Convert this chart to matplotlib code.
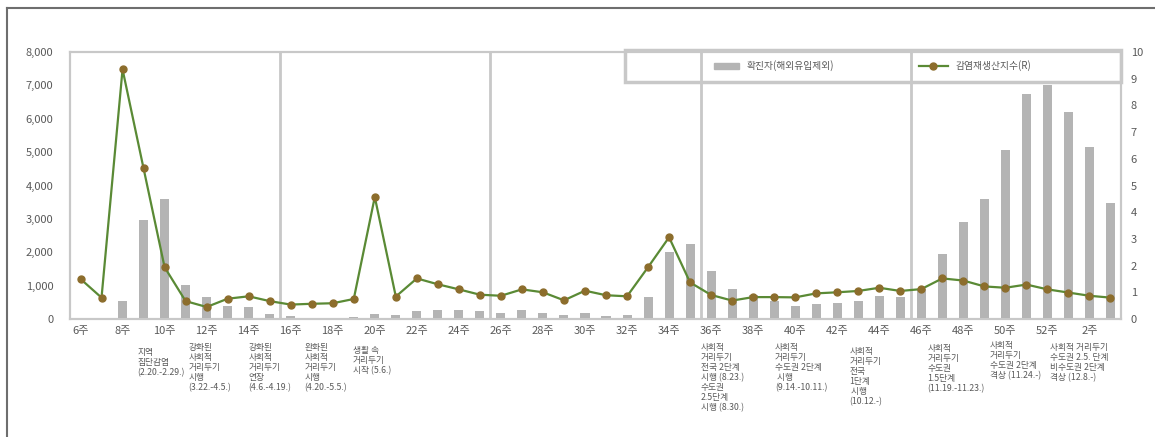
import matplotlib
matplotlib.use("Agg")
import matplotlib.pyplot as plt
from matplotlib.lines import Line2D
from matplotlib.patches import Rectangle, Patch
import matplotlib.transforms as mtransforms

plt.rcParams['font.family'] = ['Noto Sans CJK KR', 'DejaVu Sans']

# weekly data (2020 week 6 ~ 2021 week 3)
weeks = list(range(6, 53)) + [1, 2, 3]
cases = [20, 15, 540, 2960, 3600, 1030, 660, 380, 360, 140,
         80, 40, 20, 50, 140, 110, 250, 280, 280, 240,
         190, 280, 170, 130, 170, 80, 130, 650, 2020, 2250,
         1430, 910, 730, 540, 380, 450, 480, 530, 680, 650,
         910, 1940, 2920, 3600, 5050, 6730, 7000, 6210, 5150, 3490]
r_values = [1.50, 0.80, 9.35, 5.64, 1.94, 0.67, 0.45, 0.76, 0.85, 0.67,
            0.54, 0.57, 0.59, 0.75, 4.57, 0.84, 1.52, 1.30, 1.11, 0.91,
            0.87, 1.11, 1.00, 0.70, 1.06, 0.89, 0.85, 1.94, 3.06, 1.37,
            0.90, 0.69, 0.82, 0.82, 0.81, 0.96, 1.00, 1.05, 1.17, 1.05,
            1.12, 1.52, 1.44, 1.22, 1.17, 1.29, 1.11, 0.99, 0.87, 0.80]
period_breaks = [9.5, 19.5, 29.5, 39.5]

# policy notes under the axis: (x position in week index, top in axes fraction, text)
notes = [
    (2.70, -0.109, "지역\n집단감염\n(2.20.-2.29.)"),
    (5.13, -0.090, "강화된\n사회적\n거리두기\n시행\n(3.22.-4.5.)"),
    (7.99, -0.090, "강화된\n사회적\n거리두기\n연장\n(4.6.-4.19.)"),
    (10.66, -0.090, "완화된\n사회적\n거리두기\n시행\n(4.20.-5.5.)"),
    (12.95, -0.101, "생활 속\n거리두기\n시작 (5.6.)"),
    (29.51, -0.090, "사회적\n거리두기\n전국 2단계\n시행 (8.23.)\n수도권\n2.5단계\n시행 (8.30.)"),
    (33.04, -0.090, "사회적\n거리두기\n수도권 2단계\n 시행\n(9.14.-10.11.)"),
    (36.57, -0.105, "사회적\n거리두기\n전국\n1단계\n 시행\n(10.12.-)"),
    (40.29, -0.094, "사회적\n거리두기\n수도권\n1.5단계\n(11.19.-11.23.)"),
    (43.25, -0.082, "사회적\n거리두기\n수도권 2단계\n격상 (11.24.-)"),
    (46.11, -0.090, "사회적 거리두기\n수도권 2.5. 단계\n비수도권 2단계\n격상 (12.8.-)"),
]

grid_col = "#c8c8c8"
text_col = "#595959"
bar_col = "#b4b4b4"
line_col = "#5a8a35"
mark_col = "#8c6d2c"

fig = plt.figure(figsize=(11.55, 4.37), dpi=100)
W, H = 1155, 437
ax = fig.add_axes([70 / W, 1 - 319 / H, (1121 - 70) / W, (319 - 52) / H])
ax2 = ax.twinx()

x = list(range(len(weeks)))
bars = ax.bar(x, cases, width=0.43, color=bar_col, zorder=2)
ax2.plot(x, r_values, color=line_col, lw=1.6, marker="o", ms=5,
         mfc=mark_col, mec=mark_col, zorder=3)

ax.set_xlim(-0.5, len(weeks) - 0.5)
ax.set_ylim(0, 8000)
ax2.set_ylim(0, 10)
ax.set_yticks(range(0, 8001, 1000))
ax.set_yticklabels([f"{v:,}" for v in range(0, 8001, 1000)])
ax2.set_yticks(range(0, 11))

ax.set_xticks(x[::2])
ax.set_xticklabels([f"{w}주" for w in weeks[::2]])

for a in (ax, ax2):
    a.tick_params(length=0, labelsize=8, colors=text_col)
    for s in a.spines.values():
        s.set_color(grid_col)
        s.set_linewidth(1.5)
ax.tick_params(axis="y", pad=12)
ax2.tick_params(axis="y", pad=7)
ax.tick_params(axis="x", pad=5)

for b in period_breaks:
    ax.axvline(b, color=grid_col, lw=2, zorder=1)

trans = mtransforms.blended_transform_factory(ax.transData, ax.transAxes)
for xn, yn, txt in notes:
    ax.text(xn, yn, txt, transform=trans, ha="left", va="top",
            fontsize=6.3, color=text_col, linespacing=1.15, clip_on=False)

# legend box across the top right
box = Rectangle((625 / W, 1 - 82 / H), (1121 - 625) / W, 32 / H,
                transform=fig.transFigure, fill=False, ec=grid_col, lw=2.5, zorder=5)
fig.patches.append(box)

leg1 = ax2.legend(handles=[Patch(color=bar_col, label="확진자(해외유입제외)")],
                  loc="center left", bbox_to_anchor=(705 / W, 1 - 66 / H),
                  bbox_transform=fig.transFigure, frameon=False, fontsize=7,
                  handlelength=2.6, handleheight=0.6, labelcolor=text_col)
ax2.add_artist(leg1)
ax2.legend(handles=[Line2D([], [], color=line_col, lw=1.6, marker="o", ms=5,
                           mfc=mark_col, mec=mark_col, label="감염재생산지수(R)")],
           loc="center left", bbox_to_anchor=(910 / W, 1 - 66 / H),
           bbox_transform=fig.transFigure, frameon=False, fontsize=7,
           handlelength=3.0, labelcolor=text_col)

# outer frame (top and left)
fig.add_artist(Line2D([7 / W, 1], [1 - 8 / H, 1 - 8 / H], transform=fig.transFigure,
                      color="#6e6e6e", lw=1.5))
fig.add_artist(Line2D([7 / W, 7 / W], [0, 1 - 8 / H], transform=fig.transFigure,
                      color="#6e6e6e", lw=1.5))

fig.savefig("out.png", dpi=100)
